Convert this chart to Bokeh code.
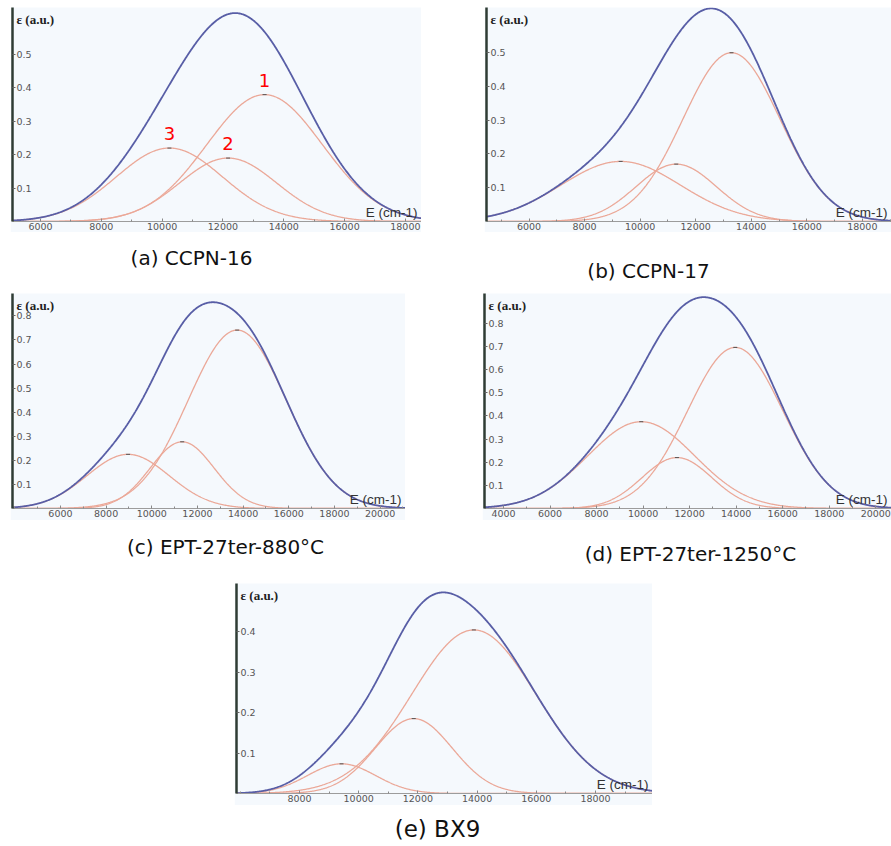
import numpy as np
from bokeh.plotting import figure
from bokeh.layouts import column, row, Spacer
from bokeh.models import Range1d, FixedTicker
from bokeh.core.properties import value
from bokeh.embed import file_html
from bokeh.resources import INLINE

# ---------------- data (Gaussian band parameters) ----------------
# component order: band 1 (high energy), band 2, band 3 (low energy)
a_centers = [13370, 12170, 10240]
a_heights = [0.38, 0.19, 0.22]
a_sigmas = [1900, 1600, 1750]

b_centers = [13290, 11300, 9300]
b_heights = [0.50, 0.17, 0.178]
b_sigmas = [1750, 1450, 2150]

c_centers = [13740, 11330, 8960]
c_heights = [0.741, 0.277, 0.225]
c_sigmas = [2150, 1400, 1800]

d_centers = [13960, 11455, 9920]
d_heights = [0.696, 0.22, 0.375]
d_sigmas = [2050, 1500, 2300]

e_centers = [13890, 11860, 9420]
e_heights = [0.405, 0.1855, 0.0735]
e_sigmas = [2100, 1300, 1150]

a_xticks = [6000, 8000, 10000, 12000, 14000, 16000, 18000]
b_xticks = [6000, 8000, 10000, 12000, 14000, 16000, 18000]
c_xticks = [6000, 8000, 10000, 12000, 14000, 16000, 18000, 20000]
d_xticks = [4000, 6000, 8000, 10000, 12000, 14000, 16000, 18000, 20000]
e_xticks = [8000, 10000, 12000, 14000, 16000, 18000]

a_yticks = [0.1, 0.2, 0.3, 0.4, 0.5]
b_yticks = [0.1, 0.2, 0.3, 0.4, 0.5]
c_yticks = [0.1, 0.2, 0.3, 0.4, 0.5, 0.6, 0.7, 0.8]
d_yticks = [0.1, 0.2, 0.3, 0.4, 0.5, 0.6, 0.7, 0.8]
e_yticks = [0.1, 0.2, 0.3, 0.4]

a_peak_labels = ["1", "2", "3"]
captions = ["(a) CCPN-16", "(b) CCPN-17", "(c) EPT-27ter-880°C",
            "(d) EPT-27ter-1250°C", "(e) BX9"]
y_title = "ε (a.u.)"
x_title = "E (cm-1)"

# ---------------- style ----------------
BG = "#f5f9fd"
BLUE = "#585ea6"
PINK = "#eba898"
AXIS_DARK = "#2f3c34"
TICK_GRAY = "#555555"
TICK_FONT = "DejaVu Sans"


def make_panel(xr, yr, centers, heights, sigmas, xticks, yticks, fw, fh, bb,
               peak_labels=None):
    p = figure(width=fw + 2, height=fh + bb,
               x_range=Range1d(*xr), y_range=Range1d(*yr),
               output_backend="svg", toolbar_location=None,
               min_border_left=2, min_border_right=0,
               min_border_top=0, min_border_bottom=bb)
    p.background_fill_color = BG
    p.border_fill_color = BG
    p.outline_line_color = None
    p.grid.visible = False

    # x axis
    minor = list(range(int(xticks[0]) - 3000, int(xticks[-1]) + 3001, 1000))
    minor = [m for m in minor if m not in xticks]
    xa = p.xaxis[0]
    xa.ticker = FixedTicker(ticks=xticks, minor_ticks=minor)
    xa.major_label_text_font = TICK_FONT
    xa.major_label_text_font_size = "9.5px"
    xa.major_label_text_color = TICK_GRAY
    xa.major_label_standoff = 1
    xa.major_tick_in = 3
    xa.major_tick_out = 0
    xa.minor_tick_in = 2
    xa.minor_tick_out = 0
    xa.axis_line_color = "#9c9c9c"
    xa.major_tick_line_color = "#8a8a8a"
    xa.minor_tick_line_color = "#8a8a8a"

    # y axis (labels drawn inside the frame)
    ya = p.yaxis[0]
    ya.ticker = FixedTicker(ticks=yticks, minor_ticks=[])
    ya.major_label_text_font = TICK_FONT
    ya.major_label_text_font_size = "9.5px"
    ya.major_label_text_color = TICK_GRAY
    ya.major_label_standoff = -19
    ya.major_tick_in = 3
    ya.major_tick_out = 0
    ya.minor_tick_line_color = None
    ya.major_tick_line_color = "#666666"
    ya.axis_line_color = AXIS_DARK
    ya.axis_line_width = 2.5

    x = np.linspace(xr[0], xr[1], 700)
    total = np.zeros_like(x)
    for c, h, s in zip(centers, heights, sigmas):
        comp = h * np.exp(-(x - c) ** 2 / (2.0 * s ** 2))
        total += comp
        p.line(x, comp, line_color=PINK, line_width=1.3)
    p.line(x, total, line_color=BLUE, line_width=1.8)
    p.scatter(centers, heights, marker="dash", size=4, line_color="#555555",
              line_width=1)

    p.text(x=[xr[0]], y=[yr[1]], text=[y_title], x_offset=4, y_offset=12,
           text_align="left", text_baseline="middle",
           text_font=value("Liberation Serif"), text_font_style="bold",
           text_font_size="13px", text_color="#222222")
    p.text(x=[xr[1]], y=[0], text=[x_title], x_offset=-4, y_offset=-2,
           text_align="right", text_baseline="bottom",
           text_font=value("Liberation Sans"), text_font_size="13.5px",
           text_color="#333333")
    if peak_labels:
        p.text(x=centers, y=heights, text=peak_labels, y_offset=-8,
               text_align="center", text_baseline="bottom",
               text_font=value("DejaVu Sans"), text_font_size="18px",
               text_color="#ff0000")
    return p


def caption_strip(height, items, sizes):
    p = figure(width=891, height=height, x_range=Range1d(0, 891),
               y_range=Range1d(height, 0), output_backend="svg",
               toolbar_location=None, min_border=0)
    p.axis.visible = False
    p.grid.visible = False
    p.outline_line_color = None
    p.background_fill_color = "white"
    p.border_fill_color = "white"
    for (txt, cx, cy), fs in zip(items, sizes):
        p.text(x=[cx], y=[cy], text=[txt], text_align="center",
               text_baseline="middle", text_font=value("DejaVu Sans"),
               text_font_size=fs, text_color="#111111")
    return p


pa = make_panel((5080, 18530), (0, 0.641), a_centers, a_heights, a_sigmas,
                a_xticks, a_yticks, 409, 214, 11, peak_labels=a_peak_labels)
pb = make_panel((4470, 19050), (0, 0.634), b_centers, b_heights, b_sigmas,
                b_xticks, b_yticks, 405, 214, 11)
pc = make_panel((3900, 21110), (0, 0.893), c_centers, c_heights, c_sigmas,
                c_xticks, c_yticks, 393, 215, 12)
pd = make_panel((3183, 20675), (0, 0.929), d_centers, d_heights, d_sigmas,
                d_xticks, d_yticks, 407, 215, 12)
pe = make_panel((5872, 19926), (0, 0.52), e_centers, e_heights, e_sigmas,
                e_xticks, e_yticks, 416, 210, 12)

cap1 = caption_strip(61, [(captions[0], 191, 25), (captions[1], 648, 38)],
                     ["20px", "20px"])
cap2 = caption_strip(63, [(captions[2], 225, 26), (captions[3], 690, 33)],
                     ["20px", "20px"])
cap3 = caption_strip(41, [(captions[4], 437, 23)], ["23px"])

layout = column(
    Spacer(width=891, height=7),
    row(Spacer(width=10, height=225), pa, Spacer(width=63, height=225), pb),
    cap1,
    row(Spacer(width=10, height=227), pc, Spacer(width=77, height=227), pd),
    cap2,
    row(Spacer(width=234, height=222), pe),
    cap3,
)

open("out.html", "w").write(file_html(layout, INLINE))
